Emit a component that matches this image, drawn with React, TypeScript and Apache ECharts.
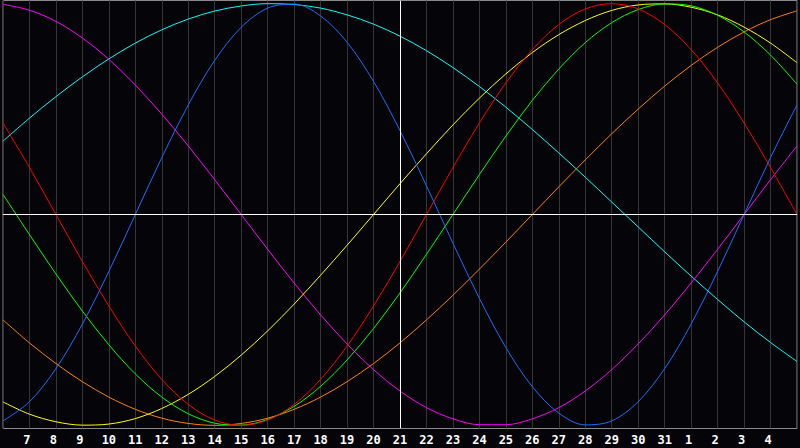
import React, { useEffect, useRef } from "react";
import * as echarts from "echarts";

const days = ["6","7","8","9","10","11","12","13","14","15","16","17","18","19","20","21","22","23","24","25","26","27","28","29","30","31","1","2","3","4","5"];

const physical = [-97.9,-88.8,-73.1,-52.0,-27.0,0,27.0,52.0,73.1,88.8,97.9,99.8,94.2,81.7,63.1,39.8,13.6,-13.6,-39.8,-63.1,-81.7,-94.2,-99.8,-97.9,-88.8,-73.1,-52.0,-27.0,0,27.0,52.0];
const emotional = [43.4,22.3,0,-22.3,-43.4,-62.4,-78.2,-90.1,-97.5,-100,-97.5,-90.1,-78.2,-62.4,-43.4,-22.3,0,22.3,43.4,62.4,78.2,90.1,97.5,100,97.5,90.1,78.2,62.4,43.4,22.3,0];
const intellectual = [9.5,-9.5,-28.2,-45.8,-61.8,-75.6,-86.6,-94.5,-99.0,-99.9,-97.2,-91.0,-81.5,-69.0,-54.1,-37.2,-18.9,0,18.9,37.2,54.1,69.0,81.5,91.0,97.2,99.9,99.0,94.5,86.6,75.6,61.8];
const intuitive = [99.7,96.9,91.6,83.7,73.6,61.4,47.6,32.5,16.5,0,-16.5,-32.5,-47.6,-61.4,-73.6,-83.7,-91.6,-96.9,-99.7,-99.7,-96.9,-91.6,-83.7,-73.6,-61.4,-47.6,-32.5,-16.5,0,16.5,32.5];
const aesthetic = [-88.9,-94.7,-98.3,-99.9,-99.4,-96.8,-92.0,-85.3,-76.8,-66.7,-55.2,-42.5,-28.8,-14.6,0,14.6,28.8,42.5,55.2,66.7,76.8,85.3,92.0,96.8,99.4,99.9,98.3,94.7,88.9,81.3,72.0];
const awareness = [-50.0,-60.9,-70.7,-79.3,-86.6,-92.4,-96.6,-99.1,-100,-99.1,-96.6,-92.4,-86.6,-79.3,-70.7,-60.9,-50.0,-38.3,-25.9,-13.1,0,13.1,25.9,38.3,50.0,60.9,70.7,79.3,86.6,92.4,96.6];
const spiritual = [34.8,45.7,55.9,65.3,73.8,81.3,87.6,92.7,96.5,98.9,100.0,99.6,97.9,94.7,90.3,84.6,77.7,69.7,60.7,50.9,40.3,29.2,17.7,5.9,-5.9,-17.7,-29.2,-40.3,-50.9,-60.7,-69.7];

const seriesDefs = [
  { name: "Awareness", data: awareness, color: "#ff8000" },
  { name: "Spiritual", data: spiritual, color: "#00ffff" },
  { name: "Intuitive", data: intuitive, color: "#ff00ff" },
  { name: "Aesthetic", data: aesthetic, color: "#ffff00" },
  { name: "Intellectual", data: intellectual, color: "#00ff00" },
  { name: "Emotional", data: emotional, color: "#ff0000" },
  { name: "Physical", data: physical, color: "#1c6cff" },
];

export default function App() {
  const ref = useRef<HTMLDivElement>(null);
  useEffect(() => {
    if (!ref.current) return;
    const chart = echarts.init(ref.current, null, { renderer: "svg" });
    const last = days.length - 1;
    chart.setOption({
      animation: false,
      backgroundColor: "#050509",
      grid: {
        left: 0.5,
        right: 0.5,
        top: 0.5,
        bottom: 19.5,
        show: true,
        borderColor: "#8a8a8a",
        borderWidth: 1,
        backgroundColor: "transparent",
      },
      xAxis: {
        type: "category",
        data: days,
        boundaryGap: false,
        axisLine: { show: true, lineStyle: { color: "#8a8a8a", width: 1 } },
        axisTick: { show: false },
        splitLine: { show: true, interval: 0, lineStyle: { color: "#353535", width: 1 } },
        axisLabel: {
          interval: 0,
          margin: 5,
          color: "#ffffff",
          fontWeight: "bold",
          fontSize: 12,
          fontFamily: "DejaVu Sans Mono",
          formatter: (v: string, i: number) => {
            if (i === 0 || i === last) return "";
            return v.length === 1 ? "{s|" + v + "}" : v;
          },
          rich: {
            s: {
              color: "#ffffff",
              fontWeight: "bold",
              fontSize: 12,
              fontFamily: "DejaVu Sans Mono",
              padding: [0, 5, 0, 0],
            },
          },
        },
      },
      yAxis: {
        type: "value",
        min: -101.5,
        max: 101.5,
        show: false,
        splitLine: { show: false },
      },
      series: [
        ...seriesDefs.map((s) => ({
          name: s.name,
          type: "line",
          data: s.data,
          smooth: 0.33,
          showSymbol: false,
          symbol: "none",
          lineStyle: { color: s.color, width: 1 },
          itemStyle: { color: s.color },
          silent: true,
        })),
        {
          name: "refs",
          type: "line",
          data: [],
          silent: true,
          markLine: {
            silent: true,
            symbol: "none",
            label: { show: false },
            lineStyle: { color: "#ffffff", type: "solid", width: 1 },
            data: [{ xAxis: "21" }, { yAxis: 0 }],
          },
          z: 1,
        },
      ],
    });
    return () => chart.dispose();
  }, []);
  return (
    <div
      ref={ref}
      style={{ position: "fixed", left: 0, top: 0, width: 800, height: 448 }}
    />
  );
}
